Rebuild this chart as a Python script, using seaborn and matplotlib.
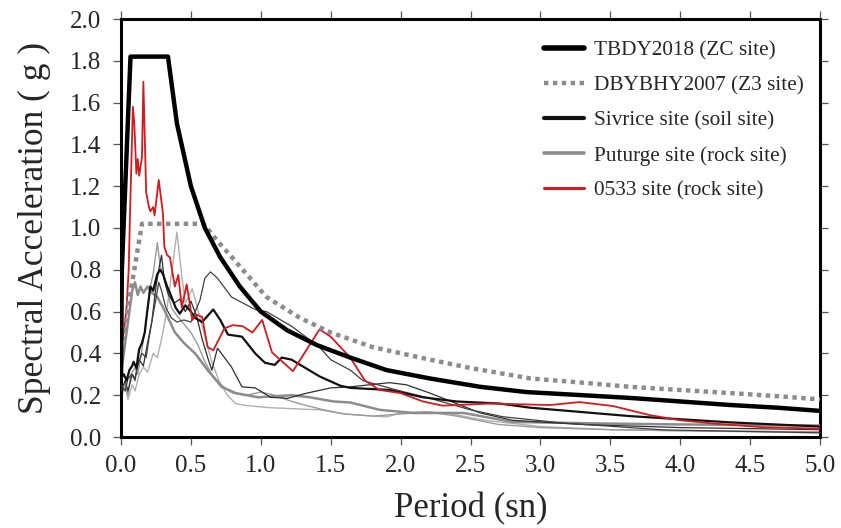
import numpy as np
import pandas as pd
import matplotlib
matplotlib.use("Agg")
import matplotlib.pyplot as plt
import seaborn as sns

# ---------------- data ----------------
tbdy_T = [0.0, 0.006, 0.068, 0.336, 0.4, 0.5, 0.6, 0.71, 0.85, 1.0, 1.19, 1.4, 1.64, 1.9, 2.21, 2.57, 2.9, 3.3, 3.64, 4.0, 4.36, 4.7, 5.0]
tbdy_SA = [0.30, 0.80, 1.82, 1.82, 1.50, 1.20, 1.00, 0.86, 0.72, 0.60, 0.51, 0.44, 0.38, 0.32, 0.28, 0.24, 0.215, 0.20, 0.187, 0.17, 0.153, 0.14, 0.125]

dby_T = [0.0, 0.15, 0.59, 0.7, 0.8, 1.04, 1.28, 1.5, 1.8, 2.21, 2.5, 2.93, 3.3, 3.64, 4.0, 4.36, 4.7, 5.0]
dby_SA = [0.42, 1.02, 1.02, 0.93, 0.855, 0.67, 0.57, 0.50, 0.43, 0.37, 0.33, 0.28, 0.26, 0.24, 0.225, 0.21, 0.195, 0.18]

sivA_T = [0.0, 0.02, 0.04, 0.06, 0.08, 0.09, 0.11, 0.13, 0.15, 0.17, 0.18, 0.21, 0.23, 0.26, 0.28, 0.30, 0.33, 0.35, 0.39, 0.42, 0.46, 0.50, 0.53, 0.58, 0.62, 0.66, 0.71, 0.765, 0.865, 0.96, 1.03, 1.10, 1.15, 1.22, 1.42, 1.57, 1.64, 1.92, 2.16, 2.40, 2.71, 2.93, 3.64, 4.36, 5.0]
sivA_SA = [0.28, 0.30, 0.27, 0.32, 0.34, 0.36, 0.33, 0.42, 0.45, 0.50, 0.56, 0.72, 0.70, 0.78, 0.80, 0.78, 0.72, 0.69, 0.62, 0.59, 0.63, 0.60, 0.57, 0.55, 0.58, 0.61, 0.56, 0.49, 0.48, 0.40, 0.355, 0.345, 0.38, 0.37, 0.29, 0.245, 0.235, 0.225, 0.19, 0.17, 0.16, 0.14, 0.10, 0.07, 0.05]

sivB_T = [0.0, 0.03, 0.05, 0.08, 0.10, 0.12, 0.15, 0.18, 0.20, 0.22, 0.25, 0.27, 0.29, 0.32, 0.36, 0.40, 0.45, 0.50, 0.565, 0.60, 0.64, 0.69, 0.79, 0.96, 1.04, 1.22, 1.42, 1.5, 1.64, 1.73, 1.97, 2.21, 2.5, 2.73, 3.16, 3.88, 5.0]
sivB_SA = [0.25, 0.22, 0.28, 0.30, 0.27, 0.35, 0.40, 0.38, 0.47, 0.55, 0.66, 0.74, 0.70, 0.62, 0.57, 0.55, 0.56, 0.55, 0.655, 0.76, 0.79, 0.76, 0.67, 0.61, 0.60, 0.53, 0.43, 0.37, 0.32, 0.27, 0.225, 0.185, 0.13, 0.097, 0.067, 0.034, 0.02]

sivC_T = [0.0, 0.03, 0.05, 0.08, 0.10, 0.13, 0.16, 0.19, 0.22, 0.25, 0.27, 0.29, 0.31, 0.34, 0.38, 0.42, 0.46, 0.50, 0.54, 0.58, 0.62, 0.65, 0.69, 0.79, 0.865, 0.96, 1.07, 1.19, 1.33, 1.5, 1.64, 1.92, 2.04, 2.21, 2.57, 2.8, 3.3, 4.0, 5.0]
sivC_SA = [0.22, 0.27, 0.22, 0.30, 0.28, 0.37, 0.34, 0.45, 0.55, 0.72, 0.80, 0.87, 0.75, 0.68, 0.64, 0.66, 0.60, 0.65, 0.58, 0.47, 0.38, 0.32, 0.425, 0.335, 0.24, 0.235, 0.19, 0.185, 0.21, 0.235, 0.24, 0.26, 0.25, 0.21, 0.115, 0.08, 0.06, 0.045, 0.035]

putA_T = [0.0, 0.03, 0.06, 0.08, 0.10, 0.12, 0.14, 0.16, 0.19, 0.22, 0.26, 0.30, 0.33, 0.386, 0.45, 0.53, 0.62, 0.72, 0.82, 0.98, 1.22, 1.35, 1.52, 1.64, 1.85, 2.09, 2.45, 2.8, 3.4, 4.0, 5.0]
putA_SA = [0.30, 0.45, 0.60, 0.70, 0.74, 0.68, 0.72, 0.69, 0.72, 0.69, 0.67, 0.62, 0.58, 0.50, 0.45, 0.40, 0.32, 0.24, 0.21, 0.19, 0.20, 0.19, 0.17, 0.165, 0.13, 0.115, 0.115, 0.072, 0.065, 0.06, 0.055]

putB_T = [0.0, 0.03, 0.05, 0.08, 0.10, 0.13, 0.16, 0.19, 0.23, 0.26, 0.30, 0.33, 0.365, 0.40, 0.435, 0.46, 0.51, 0.55, 0.60, 0.65, 0.70, 0.76, 0.82, 0.90, 1.07, 1.42, 1.6, 1.9, 2.0, 2.16, 2.33, 2.6, 3.0, 3.5, 4.0, 5.0]
putB_SA = [0.20, 0.24, 0.18, 0.25, 0.22, 0.30, 0.335, 0.31, 0.40, 0.38, 0.50, 0.62, 0.80, 0.98, 0.77, 0.64, 0.71, 0.61, 0.48, 0.36, 0.27, 0.20, 0.16, 0.15, 0.14, 0.13, 0.11, 0.096, 0.115, 0.12, 0.115, 0.08, 0.05, 0.035, 0.03, 0.02]

putC_T = [0.0, 0.03, 0.05, 0.07, 0.10, 0.12, 0.15, 0.18, 0.21, 0.23, 0.26, 0.28, 0.30, 0.33, 0.36, 0.40, 0.45, 0.50, 0.55, 0.60, 0.65, 0.70, 0.75, 0.80, 0.90, 1.0, 1.1, 1.2, 1.3, 1.45, 1.6, 1.8, 2.0, 2.2, 2.4, 2.7, 3.0, 3.5, 4.0, 5.0]
putC_SA = [0.18, 0.26, 0.20, 0.30, 0.33, 0.30, 0.42, 0.55, 0.72, 0.78, 0.93, 0.82, 0.78, 0.70, 0.62, 0.58, 0.54, 0.50, 0.44, 0.36, 0.30, 0.26, 0.23, 0.21, 0.20, 0.215, 0.20, 0.175, 0.155, 0.13, 0.11, 0.10, 0.11, 0.12, 0.10, 0.06, 0.045, 0.035, 0.03, 0.025]

s0533_T = [0.0, 0.02, 0.04, 0.055, 0.065, 0.085, 0.095, 0.11, 0.12, 0.13, 0.15, 0.16, 0.18, 0.20, 0.21, 0.23, 0.24, 0.27, 0.30, 0.31, 0.33, 0.35, 0.385, 0.41, 0.435, 0.47, 0.51, 0.54, 0.58, 0.62, 0.66, 0.74, 0.80, 0.87, 0.94, 1.01, 1.08, 1.23, 1.42, 1.50, 1.64, 1.745, 1.85, 2.0, 2.16, 2.30, 2.64, 3.07, 3.28, 3.52, 3.78, 4.0, 4.28, 4.59, 5.0]
s0533_SA = [0.45, 0.50, 0.62, 0.80, 1.08, 1.58, 1.50, 1.26, 1.33, 1.25, 1.34, 1.70, 1.17, 1.10, 1.08, 1.10, 1.06, 1.23, 1.07, 0.91, 0.87, 0.86, 0.72, 0.775, 0.62, 0.73, 0.56, 0.585, 0.575, 0.43, 0.415, 0.52, 0.535, 0.53, 0.50, 0.56, 0.405, 0.315, 0.515, 0.48, 0.38, 0.27, 0.225, 0.21, 0.17, 0.15, 0.16, 0.153, 0.167, 0.148, 0.105, 0.08, 0.062, 0.047, 0.04]

x_ticks = [0.0, 0.5, 1.0, 1.5, 2.0, 2.5, 3.0, 3.5, 4.0, 4.5, 5.0]
y_ticks = [0.0, 0.2, 0.4, 0.6, 0.8, 1.0, 1.2, 1.4, 1.6, 1.8, 2.0]

# ---------------- figure ----------------
sns.set_theme(style="ticks")
plt.rcParams['font.family'] = ['Liberation Serif', 'DejaVu Serif']

fig = plt.figure(figsize=(8.41, 5.28), dpi=100)
ax = fig.add_axes([121/841, 1 - 437/528, (820 - 121)/841, (437 - 19)/528])

def draw(T, SA, color, lw, label=None, ls='-', z=2):
    df = pd.DataFrame({"T": T, "SA": SA})
    sns.lineplot(data=df, x="T", y="SA", ax=ax, color=color, lw=lw, label=label,
                 sort=False, estimator=None, zorder=z, linestyle=ls)

draw(putB_T, putB_SA, "#b0b0b0", 1.0, z=2)
draw(putC_T, putC_SA, "#9a9a9a", 1.0, z=2)
draw(putA_T, putA_SA, "#8c8c8c", 1.8, label="Puturge site (rock site)", z=3)
draw(sivC_T, sivC_SA, "#2e2e2e", 0.9, z=3)
draw(sivB_T, sivB_SA, "#404040", 0.9, z=3)
draw(sivA_T, sivA_SA, "#111111", 1.6, label="Sivrice site (soil site)", z=4)
draw(s0533_T, s0533_SA, "#d7191c", 1.3, label="0533 site (rock site)", z=5)
draw(dby_T, dby_SA, "#8c8c8c", 3.2, label="DBYBHY2007 (Z3 site)", ls=(0, (1, 1)), z=6)
draw(tbdy_T, tbdy_SA, "#000000", 3.2, label="TBDY2018 (ZC site)", z=7)

ax.set_xlim(0, 5)
ax.set_ylim(0, 2)
ax.set_xticks(x_ticks)
ax.set_yticks(y_ticks)
ax.set_xticklabels([f"{v:.1f}" for v in x_ticks])
ax.set_yticklabels([f"{v:.1f}" for v in y_ticks])
ax.set_xlabel("Period (sn)", fontsize=25, labelpad=11)
ax.set_ylabel("Spectral Acceleration ( g )", fontsize=25.5, labelpad=14)

for s in ax.spines.values():
    s.set_visible(True)
    s.set_linewidth(2.2)
    s.set_color("black")
ax.tick_params(axis='both', which='both', direction='out', length=6, width=0.9,
               color="#555555", labelsize=18, top=True, right=True)
ax.tick_params(axis='y', pad=8)
ax.tick_params(axis='x', pad=7)

handles, labels = ax.get_legend_handles_labels()
order = ["TBDY2018 (ZC site)", "DBYBHY2007 (Z3 site)", "Sivrice site (soil site)",
         "Puturge site (rock site)", "0533 site (rock site)"]
hmap = dict(zip(labels, handles))
leg = ax.legend([hmap[o] for o in order], order, loc="upper right", frameon=False,
                fontsize=15.3, handlelength=1.9, handletextpad=0.45, labelspacing=0.72,
                bbox_to_anchor=(0.995, 0.98), borderaxespad=0.2)
lw_leg = [4.0, 3.2, 3.0, 2.6, 2.2]
for ln, w in zip(leg.get_lines(), lw_leg):
    ln.set_linewidth(w)

fig.savefig("out.png", dpi=100)
